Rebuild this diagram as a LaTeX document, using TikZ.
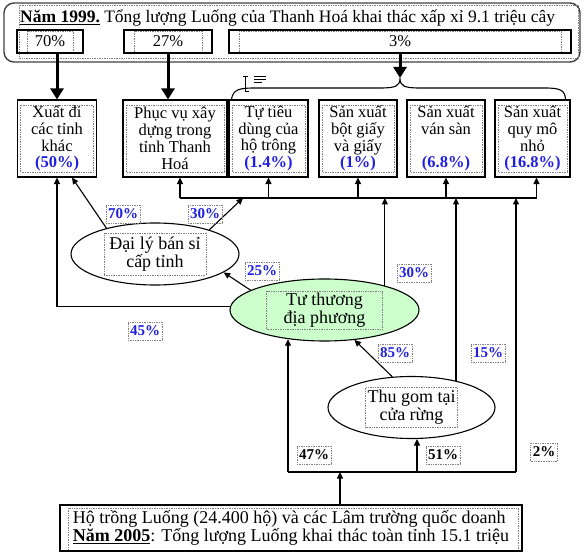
\documentclass[tikz,border=0pt]{standalone}
\usepackage{fontspec}
\setmainfont{Liberation Serif}
\usepackage{tikz}
\usetikzlibrary{arrows.meta,positioning,shapes}
\usepackage{xcolor}
\definecolor{pctblue}{HTML}{1F1FE0}
\definecolor{ttgreen}{HTML}{CCFFCC}
\definecolor{dotgray}{HTML}{808080}

\begin{document}
\begin{tikzpicture}[
    x=1pt,y=-1pt,
    dotline/.style={draw=dotgray,densely dotted,line width=0.7pt},
    box/.style={draw,line width=1.1pt,minimum height=77pt,inner sep=0pt,align=center,font=\fontsize{16.5}{16.8}\selectfont,
        path picture={\draw[dotline] ([shift={(3pt,-5pt)}]path picture bounding box.north west) rectangle ([shift={(-3pt,5pt)}]path picture bounding box.south east);}},
    pbox/.style={draw,line width=1.1pt,minimum height=23pt,inner sep=0pt,font=\fontsize{16.5}{16.8}\selectfont,
        path picture={\draw[dotline] ([shift={(10pt,-1pt)}]path picture bounding box.north west) rectangle ([shift={(-10pt,1pt)}]path picture bounding box.south east);}},
    srcbox/.style={draw,line width=1.1pt,inner sep=0pt,align=left,font=\fontsize{18}{18.5}\selectfont,
        path picture={\draw[dotline] ([shift={(8pt,-3pt)}]path picture bounding box.north west) rectangle ([shift={(-4pt,1pt)}]path picture bounding box.south east);}},
    hub/.style 2 args={ellipse,draw,line width=1.1pt,minimum height=62pt,inner sep=0pt,align=center,font=\fontsize{18}{18}\selectfont,
        path picture={\draw[dotline] ([shift={(-#1,-#2)}]path picture bounding box.center) rectangle ([shift={(#1,#2)}]path picture bounding box.center);}},
    pct/.style={draw=dotgray,densely dotted,line width=0.7pt,inner sep=2pt,minimum height=18pt,font=\fontsize{15}{15}\selectfont\bfseries,text=pctblue},
    pctk/.style={pct,text=black},
    arr/.style={-{Triangle[length=6.5pt,width=6pt]},line width=1.1pt},
    bigarr/.style={-{Triangle[length=11pt,width=13pt]},line width=3pt},
    wire/.style={line width=1.1pt}
]
\useasboundingbox (0,0) rectangle (587,556);

% total 1999
\node[draw=black!75,line width=1.4pt,rounded corners=10pt,minimum width=576pt,minimum height=59pt] (frame) at (292,32.5) {};
\draw[dotline] (19,5) rectangle (578,58);
\node[anchor=west,inner sep=0pt,font=\fontsize{17.5}{18}\selectfont] (title) at (20,18) {\textbf{\underline{Năm 1999.}} Tổng lượng Luống của Thanh Hoá khai thác xấp xỉ 9.1 triệu cây};
\node[pbox,minimum width=66pt] (p70) at (50,41.5) {70\%};
\node[pbox,minimum width=88pt] (p27) at (168,41.5) {27\%};
\node[pbox,minimum width=342pt] (p3) at (400,41.5) {3\%};

% uses
\node[box,minimum width=79pt] (b1) at (57,138.5) {Xuất đi\\các tỉnh\\khác\\\textcolor{pctblue}{\textbf{(50\%)}}};
\node[box,minimum width=104pt] (b2) at (175,138.5) {Phục vụ xây\\dựng trong\\tỉnh Thanh\\Hoá};
\node[box,minimum width=79pt] (b3) at (268.5,138.5) {Tự tiêu\\dùng của\\hộ trông\\\textcolor{pctblue}{\textbf{(1.4\%)}}};
\node[box,minimum width=78pt] (b4) at (358,138.5) {Sản xuất\\bột giấy\\và giấy\\\textcolor{pctblue}{\textbf{(1\%)}}};
\node[box,minimum width=78pt] (b5) at (446,138.5) {Sản xuất\\ván sàn\\~\\\textcolor{pctblue}{\textbf{(6.8\%)}}};
\node[box,minimum width=75pt] (b6) at (532.5,138.5) {Sản xuất\\quy mô\\nhỏ\\\textcolor{pctblue}{\textbf{(16.8\%)}}};

% traders
\node[hub={51pt}{21pt},minimum width=168pt] (dl) at (155,254) {Đại lý bán sỉ\\cấp tỉnh};
\node[hub={58pt}{19pt},minimum width=189pt,fill=ttgreen] (tt) at (324.5,310) {Tư thương\\địa phương};
\node[hub={46pt}{20pt},minimum width=167pt] (tg) at (411.5,407.5) {Thu gom tại\\cửa rừng};

% growers
\node[srcbox,minimum width=462pt,minimum height=46pt] (hb) at (291,528) {Hộ trồng Luống (24.400 hộ) và các Lâm trường quốc doanh\\\textbf{\underline{Năm 2005}}: Tổng lượng Luống khai thác toàn tỉnh 15.1 triệu};

% split of 1999 total
\coordinate (cusp) at (400,78);
\draw[bigarr] (p70.south -| b1.north) -- (b1.north);
\draw[bigarr] (p27.south) -- (p27.south |- b2.north);
\draw[bigarr] (p3.south) -- (cusp);
\draw[wire] ([xshift=3pt]b3.north west) .. controls (233,89) and (240,88) .. (255,88) -- (380,88)
    .. controls (396,88) and (400,86) .. (cusp) .. controls (400,86) and (404,88) .. (420,88) -- (545,88)
    .. controls (560,88) and (565,90) .. ([xshift=-5pt]b6.north east);
\draw[line width=0.8pt] (243,76) -- (248,76) (245.5,76) -- (245.5,91) -- (249,91);
\draw[line width=0.8pt] (254,76) -- (266,76) (254,79) -- (266,79) (254,82) -- (262,82);

% distribution line
\coordinate (bus) at (0,198);
\coordinate (d2) at ([xshift=5pt]b2.south);
\coordinate (d6) at ([xshift=4pt]b6.south);
\draw[wire] (d2 |- bus) -- (d6 |- bus);
\foreach \b in {d2,b3.south,b4.south,b5.south,d6}
    \draw[arr] (\b |- bus) -- (\b);

\coordinate (j1) at (243,198);
\draw[arr] (dl.24) -- (j1);
\draw[arr] (tt.22) -- (tt.22 |- bus);
\draw[arr] (tg.31) -- (tg.31 |- bus);

\coordinate (k1) at ([xshift=15pt]b1.south);
\draw[arr] (dl.152) -- (k1);
\draw[arr] (tt.178) -| (b1.south);
\draw[arr] (tt.165) -- (dl.-15);
\draw[arr] (tg.122) -- (tt.-45);

% from growers
\coordinate (bbL) at (288,472);
\coordinate (bbM) at (417,472);
\coordinate (bbR) at (516,472);
\coordinate (hbIn) at (340,472);
\draw[wire] (bbL) -- (bbR);
\draw[arr] (hbIn |- hb.north) -- (hbIn);
\draw[arr] (bbL) -- (bbL |- tt.219);
\draw[arr] (bbM) -- (bbM |- tg.south);
\draw[arr] (bbR) -- (bbR |- bus);

% shares
\node[pct] (l70) at (123,214) {70\%};
\node[pct] (l30a) at (205,214) {30\%};
\node[pct] (l25) at (262,271) {25\%};
\node[pct] (l45) at (145,331) {45\%};
\node[pct] (l30b) at (414,273) {30\%};
\node[pct] (l85) at (395,353) {85\%};
\node[pct] (l15) at (488,353) {15\%};
\node[pctk] (l47) at (314,455) {47\%};
\node[pctk] (l51) at (443,455) {51\%};
\node[pctk] (l2) at (544,452) {2\%};
\end{tikzpicture}
\end{document}
